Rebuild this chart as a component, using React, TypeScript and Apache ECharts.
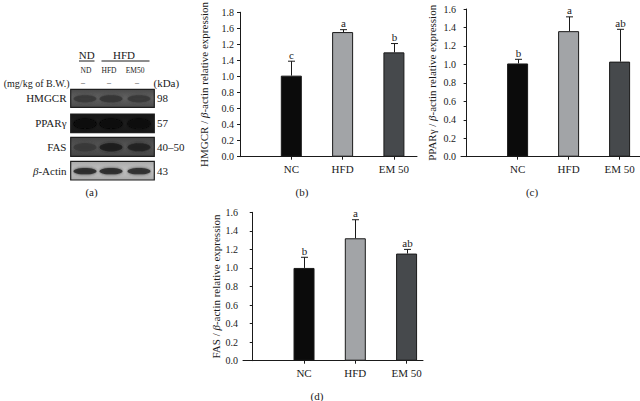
import React, { useEffect, useRef } from "react";
import * as echarts from "echarts";

const groups = ["NC", "HFD", "EM 50"];
const xPos = [1, 2, 3];

const hmgcrMean = [1.01, 1.553, 1.3];
const hmgcrSd = [0.18, 0.03, 0.11];
const hmgcrLetters = ["c", "a", "b"];
const hmgcrTicks = ["0.0", "0.2", "0.4", "0.6", "0.8", "1.0", "1.4", "1.2", "1.6", "1.8"];

const pparMean = [1.01, 1.36, 1.03];
const pparSd = [0.045, 0.155, 0.35];
const pparLetters = ["b", "a", "ab"];

const fasMean = [1.0, 1.32, 1.155];
const fasSd = [0.115, 0.2, 0.045];
const fasLetters = ["b", "a", "ab"];

const stdTicks = ["0.0", "0.2", "0.4", "0.6", "0.8", "1.0", "1.2", "1.4", "1.6"];

const blotLabels = ["HMGCR", "PPARγ", "FAS", "β-Actin"];
const kdaLabels = ["98", "57", "40–50", "43"];
const laneGroups = ["ND", "HFD"];
const laneLabels = ["ND", "HFD", "EM50"];

const barColors = ["#0b0b0b", "#a2a4a7", "#46494c"];
const FONT = "Liberation Serif";
const INK = "#1a1a1a";

function App() {
  const ref = useRef<HTMLDivElement>(null);

  useEffect(() => {
    if (!ref.current) return;
    const chart = echarts.init(ref.current, undefined, { renderer: "svg" });

    const grids = [
      { left: 239, top: 8.3, width: 178, height: 148.4 },
      { left: 461, top: 9, width: 179, height: 147.7 },
      { left: 243, top: 212.3, width: 180, height: 148.4 },
    ];
    const xRanges = [
      [-0.02, 3.45],
      [-0.11, 3.4],
      [-0.19, 3.32],
    ];
    const yMax = [1.8, 1.6, 1.6];
    const yTickLabels = [hmgcrTicks, stdTicks, stdTicks];
    const prefixes = ["HMGCR", "PPARγ", "FAS"];
    const nameGaps = [30, 24, 17];
    const means = [hmgcrMean, pparMean, fasMean];
    const sds = [hmgcrSd, pparSd, fasSd];
    const letters = [hmgcrLetters, pparLetters, fasLetters];

    const xAxis = grids.map((_, i) => ({
      type: "value",
      gridIndex: i,
      min: xRanges[i][0],
      max: xRanges[i][1],
      splitLine: { show: false },
      axisLine: { show: true, onZero: false, lineStyle: { color: INK, width: 1 } },
      axisTick: { show: true, customValues: xPos, length: 3, lineStyle: { color: INK } },
      axisLabel: {
        customValues: xPos,
        formatter: (v: number) => groups[Math.round(v) - 1] ?? "",
        fontFamily: FONT,
        fontSize: 11,
        color: INK,
        margin: 7,
      },
    }));

    const yAxis = grids.map((_, i) => ({
      type: "value",
      gridIndex: i,
      min: 0,
      max: yMax[i],
      interval: 0.2,
      splitLine: { show: false },
      axisLine: { show: true, lineStyle: { color: INK, width: 1 } },
      axisTick: { show: true, length: 3, lineStyle: { color: INK } },
      axisLabel: {
        formatter: (v: number) => yTickLabels[i][Math.round(v / 0.2)] ?? "",
        fontFamily: FONT,
        fontSize: 10,
        color: INK,
        margin: 5,
      },
      name: `{n|${prefixes[i]} / }{i|β}{n|-actin relative expression}`,
      nameLocation: "middle",
      nameRotate: 90,
      nameGap: nameGaps[i],
      nameTextStyle: {
        fontFamily: FONT,
        fontSize: 11,
        color: INK,
        rich: {
          n: { fontFamily: FONT, fontSize: 11, color: INK },
          i: { fontFamily: FONT, fontSize: 11, color: INK, fontStyle: "italic" },
        },
      },
    }));

    const series: any[] = [];
    for (let i = 0; i < 3; i++) {
      series.push({
        type: "bar",
        xAxisIndex: i,
        yAxisIndex: i,
        barWidth: 21,
        data: means[i].map((m, k) => ({
          value: [xPos[k], m],
          itemStyle: { color: barColors[k], borderColor: "#1a1a1a", borderWidth: 1 },
        })),
      });
      series.push({
        type: "custom",
        xAxisIndex: i,
        yAxisIndex: i,
        z: 5,
        clip: false,
        data: means[i].map((m, k) => [xPos[k], m, m + sds[i][k], k]),
        renderItem: (_p: any, api: any) => {
          const x = api.value(0);
          const base = api.coord([x, api.value(1)]);
          const top = api.coord([x, api.value(2)]);
          const k = api.value(3);
          const cx = Math.round(base[0]) + 0.5;
          return {
            type: "group",
            children: [
              {
                type: "line",
                shape: { x1: cx, y1: base[1], x2: cx, y2: top[1] },
                style: { stroke: INK, lineWidth: 1 },
              },
              {
                type: "line",
                shape: { x1: cx - 3.5, y1: top[1], x2: cx + 3.5, y2: top[1] },
                style: { stroke: INK, lineWidth: 1 },
              },
              {
                type: "text",
                x: cx,
                y: top[1] - 1,
                style: {
                  text: letters[i][k],
                  fontFamily: FONT,
                  fontSize: 11,
                  fill: INK,
                  align: "center",
                  verticalAlign: "bottom",
                },
              },
            ],
          };
        },
      });
    }

    // Western blot panel (a)
    const g: any[] = [];
    const txt = (text: string, x: number, y: number, size = 11, align = "center") => ({
      type: "text",
      x,
      y,
      style: {
        text,
        fontFamily: FONT,
        fontSize: size,
        fill: INK,
        align,
        verticalAlign: "middle",
      },
    });
    g.push(txt(laneGroups[0], 86.7, 54.5, 11));
    g.push(txt(laneGroups[1], 124, 54.5, 11));
    g.push({ type: "line", shape: { x1: 79, y1: 61, x2: 94.5, y2: 61 }, style: { stroke: INK, lineWidth: 1 } });
    g.push({ type: "line", shape: { x1: 101.5, y1: 61, x2: 149.5, y2: 61 }, style: { stroke: INK, lineWidth: 1 } });
    const laneX = [85, 111, 139];
    laneLabels.forEach((l, k) => g.push(txt(l, [86, 109, 135][k], 70, 7.5)));
    g.push(txt("(mg/kg of B.W.)", 69.5, 83, 10, "right"));
    laneX.forEach((x) => g.push(txt("–", x - 2, 82.5, 8)));
    g.push(txt("(kDa)", 153.5, 83, 11, "left"));

    const rowY = [89.3, 114, 137.3, 161.3];
    const rowH = [18, 18.7, 19, 18.7];
    const rowBg = [
      ["#4a4a4a", "#636363"],
      ["#161616", "#1e1e1e"],
      ["#444444", "#575757"],
      ["#a9a9a9", "#c4c4c4"],
    ];
    const bandCol = [
      ["#3a3a3a", "#353535", "#3a3a3a"],
      ["#070707", "#080808", "#0d0d0d"],
      ["#383838", "#1c1c1c", "#242424"],
      ["#2c2c2c", "#2a2a2a", "#2e2e2e"],
    ];
    const bandRy = [3.5, 5, 4, 3.2];
    blotLabels.forEach((lab, r) => {
      const y0 = rowY[r];
      const h = rowH[r];
      g.push({
        type: "rect",
        shape: { x: 70.7, y: y0, width: 83.6, height: h },
        style: {
          fill: new echarts.graphic.LinearGradient(0, 0, 0, 1, [
            { offset: 0, color: rowBg[r][0] },
            { offset: 0.5, color: rowBg[r][1] },
            { offset: 1, color: rowBg[r][0] },
          ]),
          stroke: "#1e1e1e",
          lineWidth: 1.2,
        },
      });
      laneX.forEach((x, k) => {
        g.push({
          type: "ellipse",
          shape: { cx: x, cy: y0 + h / 2 + 0.5, rx: 11.5, ry: bandRy[r] },
          style: { fill: bandCol[r][k], shadowBlur: 3, shadowColor: bandCol[r][k], opacity: 0.9 },
        });
      });
      if (lab.startsWith("β")) {
        g.push({
          type: "text",
          x: 66.5,
          y: y0 + h / 2,
          style: {
            text: "{i|β}{n|-Actin}",
            align: "right",
            verticalAlign: "middle",
            rich: {
              i: { fontFamily: FONT, fontSize: 11, fontStyle: "italic", fill: INK },
              n: { fontFamily: FONT, fontSize: 11, fill: INK },
            },
          },
        });
      } else {
        g.push(txt(lab, 66.5, y0 + h / 2, 11, "right"));
      }
      g.push(txt(kdaLabels[r], 157, y0 + h / 2, 11, "left"));
    });

    g.push(txt("(a)", 91.5, 192, 11));
    g.push(txt("(b)", 302, 191.7, 11));
    g.push(txt("(c)", 532, 192, 11));
    g.push(txt("(d)", 317, 395.5, 11));

    chart.setOption({
      animation: false,
      backgroundColor: "#ffffff",
      grid: grids,
      xAxis,
      yAxis,
      series,
      graphic: g,
    } as any);

    return () => chart.dispose();
  }, []);

  return (
    <div
      ref={ref}
      style={{ position: "absolute", left: 0, top: 0, width: 640, height: 401, background: "#fff" }}
    />
  );
}

export default App;
